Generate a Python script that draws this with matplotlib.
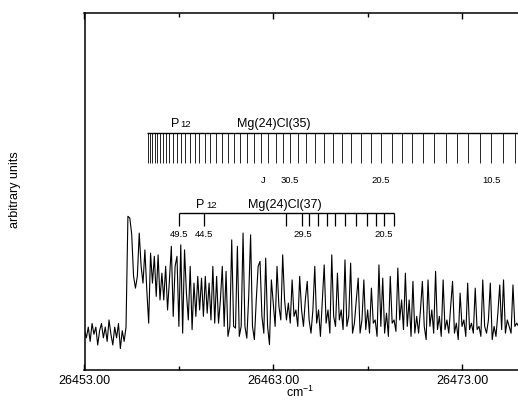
import matplotlib.pyplot as plt
import numpy as np

plt.rcParams['font.family'] = ['Liberation Sans', 'DejaVu Sans']
plt.rcParams['mathtext.fontset'] = 'custom'
plt.rcParams['mathtext.rm'] = 'Liberation Sans'
plt.rcParams['mathtext.default'] = 'regular'

# spectrum, sampled every 0.1 cm-1 from 26453.0
wn_start = 26453.0
wn_step = 0.1
intensity = [
    11, 9, 12, 8, 13, 10, 12, 7, 11, 13, 9, 12, 8, 14, 10, 7, 12, 9, 13, 6,
    11, 8, 12, 43, 42.5, 38, 26.2, 22.9, 26.2, 38.3, 29, 24.3, 33.6, 22.4, 13.1, 32.7,
    24.3, 31.8, 20.6, 32.2, 19.6, 27.1, 19.6, 29, 16.8, 25.2, 34.6, 15, 29, 31.8,
    12.2, 35, 10.3, 33.6, 21.5, 14, 29, 11.3, 24.3, 15, 26.2, 16.8, 25.7, 15, 26.2,
    15.9, 24.3, 14, 29, 13.1, 26.2, 13.1, 19.6, 29, 12.2, 27.6, 9.4, 12.2, 36.4, 12.2,
    11.7, 34.6, 9.4, 12.2, 38.3, 12.2, 8.9, 20.6, 37.8, 12.2, 8.5, 19.6, 29, 30.4,
    15, 10.3, 31.3, 12.2, 7.1, 25.2, 18.7, 12.2, 29, 17.8, 14, 32.2, 19.6, 14,
    18.7, 13.1, 25.2, 15, 16.8, 12.2, 26.2, 16.8, 12.2, 19.6, 24.8, 14, 10.3, 16.8,
    29, 13.1, 16.8, 9.4, 19.6, 29.4, 13.1, 16.8, 10.3, 32.2, 15, 12.2, 27.1, 14,
    16.8, 11.3, 30.8, 12.2, 15, 29.9, 10.3, 13.1, 19.6, 25.7, 10.3, 14, 25.2, 11.3,
    16.8, 10.3, 22.9, 13.1, 14, 9.4, 29.4, 12.2, 25.7, 10.3, 15.9, 9.4, 26.2, 13.1,
    14, 10.8, 28.5, 14, 19.6, 11.3, 27.1, 12.2, 19.6, 9.4, 24.8, 10.3, 15, 10.3,
    16.8, 24.8, 12.2, 8.5, 25.2, 12.2, 16.8, 10.3, 27.6, 11.3, 15, 9.4, 25.2, 11.3,
    14, 10.3, 17.8, 24.8, 10.3, 13.1, 8.5, 21.5, 12.2, 14, 9.4, 24.3, 11.3, 13.1,
    10.3, 22.9, 11.3, 12.2, 9.4, 25.2, 12.2, 10.3, 14, 24.3, 8.5, 12.2, 9.4, 15.9,
    23.8, 11.3, 25.2, 10.3, 14, 12.2, 10.3, 23.8, 12.2, 13.1, 12.2,
]

# Mg(24)Cl(35) P12 line positions (cm-1)
lines_35 = [
    26456.36, 26456.47, 26456.58, 26456.71, 26456.85, 26457.00, 26457.15,
    26457.32, 26457.50, 26457.69, 26457.90, 26458.12, 26458.35, 26458.58,
    26458.83, 26459.09, 26459.37, 26459.65, 26459.95, 26460.26, 26460.58,
    26460.90, 26461.25, 26461.60, 26461.97, 26462.35, 26462.73, 26463.13,
    26463.54, 26463.87, 26464.30, 26464.75, 26465.20, 26465.67, 26466.14,
    26466.63, 26467.14, 26467.65, 26468.17, 26468.71, 26469.28, 26469.81,
    26470.37, 26470.95, 26471.53, 26472.14, 26472.72, 26473.33, 26473.95,
    26474.54, 26475.19, 26475.81,
]
labels_35 = ["30.5", "20.5", "10.5"]
label_pos_35 = [26463.87, 26468.71, 26474.54]

# Mg(24)Cl(37) P12 line positions (cm-1)
lines_37 = [
    26457.99, 26459.31, 26463.68, 26464.54, 26464.88, 26465.35, 26465.83,
    26466.29, 26466.80, 26467.38, 26467.95, 26468.43, 26468.87, 26469.40,
]
labels_37 = ["49.5", "44.5", "29.5", "20.5"]
label_pos_37 = [26457.99, 26459.31, 26464.54, 26468.87]

wn = wn_start + wn_step * np.arange(len(intensity))

fig = plt.figure(figsize=(5.18, 4.03), dpi=100)
ax = fig.add_axes([84.5 / 518, 33 / 403, 25 * 18.875 / 518, 357.5 / 403])

ax.plot(wn, intensity, color='black', lw=0.8)

small = 6.8

# comb 35
ax.hlines(66.3, 26456.30, 26478, color='black', lw=1.0)
ax.vlines(lines_35, 57.9, 66.3, color='black', lw=0.6)
for lab, pos in zip(labels_35, label_pos_35):
    ax.text(pos, 52.9, lab, fontsize=small, ha='center', va='center')
ax.text(26462.46, 52.9, "J", fontsize=small, ha='center', va='center')
ax.text(26457.79, 67.9, "P", fontsize=9, ha='center', va='baseline')
ax.text(26458.10, 67.9, "12", fontsize=small, ha='left', va='baseline')
ax.text(26463.04, 68.8, "Mg(24)Cl(35)", fontsize=9, ha='center', va='center')

# comb 37
ax.hlines(43.8, lines_37[0], lines_37[-1], color='black', lw=1.0)
ax.vlines(lines_37, 40.3, 43.8, color='black', lw=0.9)
for lab, pos in zip(labels_37, label_pos_37):
    ax.text(pos, 38.0, lab, fontsize=small, ha='center', va='center')
ax.text(26459.13, 45.3, "P", fontsize=9, ha='center', va='baseline')
ax.text(26459.45, 45.3, "12", fontsize=small, ha='left', va='baseline')
ax.text(26463.62, 46.2, "Mg(24)Cl(37)", fontsize=9, ha='center', va='center')

ax.set_xlim(26453, 26478)
ax.set_ylim(0, 100)
ax.set_xticks([26453, 26463, 26473])
ax.set_xticklabels(["26453.00", "26463.00", "26473.00"])
ax.set_xticks([26458, 26468], minor=True)
ax.set_yticks([])
ax.tick_params(axis='x', which='both', direction='in', top=True, labelsize=9, pad=3.5)
ax.tick_params(axis='x', which='major', length=4, width=1)
ax.tick_params(axis='x', which='minor', length=3, width=1)
ax.spines['right'].set_visible(False)
for s in ['left', 'top', 'bottom']:
    ax.spines[s].set_linewidth(1.1)

fig.text(300 / 518, 1 - 397 / 403, r'cm$^{-1}$', fontsize=9, ha='center', va='baseline')
fig.text(15 / 518, 1 - 190 / 403, "arbitrary units", fontsize=9, rotation=90,
         ha='center', va='center')

fig.savefig("out.png", dpi=100)
